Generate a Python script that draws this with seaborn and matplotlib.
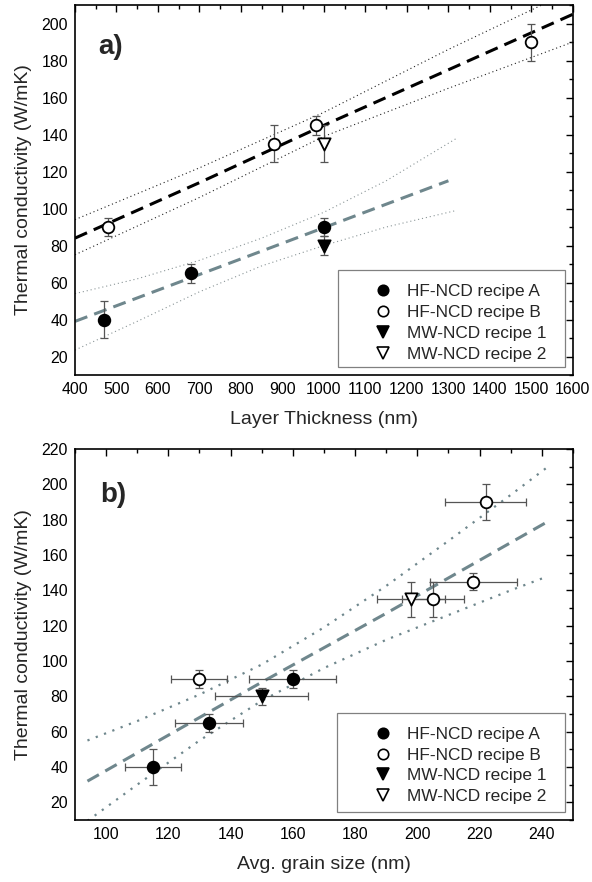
import seaborn as sns
import matplotlib.pyplot as plt
from matplotlib.lines import Line2D
from matplotlib.patches import Rectangle
from matplotlib.ticker import MultipleLocator

# ---- values ----
series_names = ["HF-NCD recipe A", "HF-NCD recipe B", "MW-NCD recipe 1", "MW-NCD recipe 2"]

# thermal conductivity (W/mK) and its error
k_A = [40, 65, 90]
kerr_A = [10, 5, 5]
k_B = [90, 135, 145, 190]
kerr_B = [5, 10, 5, 10]
k_1 = [80]
kerr_1 = [5]
k_2 = [135]
kerr_2 = [10]

# panel a: layer thickness (nm)
thick_A = [470, 680, 1000]
thick_B = [480, 880, 980, 1500]
thick_1 = [1000]
thick_2 = [1000]

# panel b: average grain size (nm) and its error
grain_A = [115, 133, 160]
gerr_A = [9, 11, 14]
grain_B = [130, 205, 218, 222]
gerr_B = [9, 10, 14, 13]
grain_1 = [150]
gerr_1 = [15]
grain_2 = [198]
gerr_2 = [11]

# panel a fits (recipe B: black, recipe A: grey) with confidence bands
fitB_x = [400, 700, 1000, 1300, 1600]
fitB_y = [84, 114, 145, 175, 205]
fitB_up = [94, 122, 152, 186, 218]
fitB_lo = [75, 106, 139, 165, 190]

fitA_line_x = [400, 1300]
fitA_line_y = [39, 115]
fitA_x = [400, 550, 700, 850, 1000, 1150, 1320]
fitA_up = [54, 62, 72, 84, 98, 115, 138]
fitA_lo = [23.5, 39, 55, 69, 80, 90, 99]

# panel b fit with confidence band
fitb_x = [94, 110, 130, 150, 170, 190, 210, 230, 242]
fitb_y = [32, 48, 68, 88, 107.5, 127, 147, 167, 179]
fitb_up = [55, 66, 81, 98, 119, 142.5, 168, 194, 210]
fitb_lo = [9.5, 30, 55, 77.5, 96, 112, 126, 140, 148]

sns.set_theme(style="white")
plt.rcParams["font.family"] = ["Liberation Sans", "DejaVu Sans"]

GREY = "#6f878d"
ERR = "#555555"
faces = ["black", "white", "black", "white"]
marks = ["o", "o", "v", "v"]

fig = plt.figure(figsize=(5.92, 8.82), dpi=100)
ax_a = fig.add_axes([0.1267, 0.5748, 0.841, 0.4195])
ax_b = fig.add_axes([0.1267, 0.0703, 0.841, 0.4206])


def style_axes(ax):
    for s in ax.spines.values():
        s.set_linewidth(1.2)
        s.set_color("black")
    ax.tick_params(which="both", direction="in", top=True, right=True,
                   colors="black", labelsize=11.4, pad=5)
    ax.tick_params(which="major", length=5, width=1)
    ax.tick_params(which="minor", length=3, width=1)
    ax.set_ylabel("Thermal conductivity (W/mK)", fontsize=14, labelpad=7)


def draw_points(ax, xs, ys, yerrs, xerrs=None):
    for x, y, ye, xe, fc, m in zip(xs, ys, yerrs, xerrs or [None] * 4, faces, marks):
        ax.errorbar(x, y, yerr=ye, xerr=xe, fmt="none", ecolor=ERR,
                    elinewidth=0.9, capsize=3, capthick=0.9, zorder=3)
        sns.scatterplot(x=x, y=y, ax=ax, marker=m, s=78 if m == "v" else 70,
                        color=fc, edgecolor="black", linewidth=1.3, zorder=4)


def draw_legend(ax, frame, anchor):
    ax.add_patch(Rectangle(frame[:2], frame[2], frame[3], transform=ax.transAxes,
                           facecolor="white", edgecolor="#808080", lw=0.9, zorder=5))
    handles = [Line2D([], [], ls="", marker=m, ms=7.5 if m == "o" else 8,
                      mfc=fc, mec="black", mew=1.2) for fc, m in zip(faces, marks)]
    leg = ax.legend(handles, series_names, loc="center left", bbox_to_anchor=anchor,
                    frameon=False, fontsize=12.4, borderpad=0, handlelength=1.0,
                    handletextpad=0.9, labelspacing=0.33, borderaxespad=0)
    leg.set_zorder(6)


# ---- panel a ----
ax = ax_a
dotted_fine = (0, (1, 2.6))
sns.lineplot(x=fitB_x, y=fitB_up, ax=ax, color="#222222", lw=0.8, linestyle=dotted_fine, sort=False, estimator=None)
sns.lineplot(x=fitB_x, y=fitB_lo, ax=ax, color="#222222", lw=0.8, linestyle=dotted_fine, sort=False, estimator=None)
sns.lineplot(x=fitB_x, y=fitB_y, ax=ax, color="black", lw=2.2, linestyle=(0, (4.3, 2.4)), sort=False, estimator=None)
sns.lineplot(x=fitA_x, y=fitA_up, ax=ax, color="#8a9597", lw=0.8, linestyle=dotted_fine, sort=False, estimator=None)
sns.lineplot(x=fitA_x, y=fitA_lo, ax=ax, color="#8a9597", lw=0.8, linestyle=dotted_fine, sort=False, estimator=None)
sns.lineplot(x=fitA_line_x, y=fitA_line_y, ax=ax, color=GREY, lw=2.2, linestyle=(0, (4.3, 2.4)), sort=False, estimator=None)

draw_points(ax, [thick_A, thick_B, thick_1, thick_2], [k_A, k_B, k_1, k_2],
            [kerr_A, kerr_B, kerr_1, kerr_2])

ax.set_xlim(400, 1600)
ax.set_ylim(10, 210)
ax.xaxis.set_major_locator(MultipleLocator(100))
ax.xaxis.set_minor_locator(MultipleLocator(50))
ax.yaxis.set_minor_locator(MultipleLocator(10))
ax.set_yticks(range(20, 201, 20))
style_axes(ax)
ax.set_xlabel("Layer Thickness (nm)", fontsize=14, labelpad=10)
ax.text(0.046, 0.886, "a)", transform=ax.transAxes, fontsize=20, fontweight="bold", va="center")
draw_legend(ax, (0.528, 0.0216, 0.456, 0.2624), (0.601, 0.1405))

# ---- panel b ----
ax = ax_b
dotted_big = (0, (1, 3))
sns.lineplot(x=fitb_x, y=fitb_up, ax=ax, color=GREY, lw=1.6, linestyle=dotted_big, sort=False, estimator=None)
sns.lineplot(x=fitb_x, y=fitb_lo, ax=ax, color=GREY, lw=1.6, linestyle=dotted_big, sort=False, estimator=None)
sns.lineplot(x=fitb_x, y=fitb_y, ax=ax, color=GREY, lw=2.2, linestyle=(0, (4.3, 2.4)), sort=False, estimator=None)

draw_points(ax, [grain_A, grain_B, grain_1, grain_2], [k_A, k_B, k_1, k_2],
            [kerr_A, kerr_B, kerr_1, kerr_2], [gerr_A, gerr_B, gerr_1, gerr_2])

ax.set_xlim(90, 250)
ax.set_ylim(10, 220)
ax.xaxis.set_minor_locator(MultipleLocator(10))
ax.set_xticks(range(100, 241, 20))
ax.yaxis.set_minor_locator(MultipleLocator(10))
ax.set_yticks(range(20, 221, 20))
style_axes(ax)
ax.set_xlabel("Avg. grain size (nm)", fontsize=14, labelpad=10)
ax.text(0.05, 0.876, "b)", transform=ax.transAxes, fontsize=20, fontweight="bold", va="center")
draw_legend(ax, (0.527, 0.0224, 0.457, 0.266), (0.601, 0.147))

fig.savefig("out.png", dpi=100)
